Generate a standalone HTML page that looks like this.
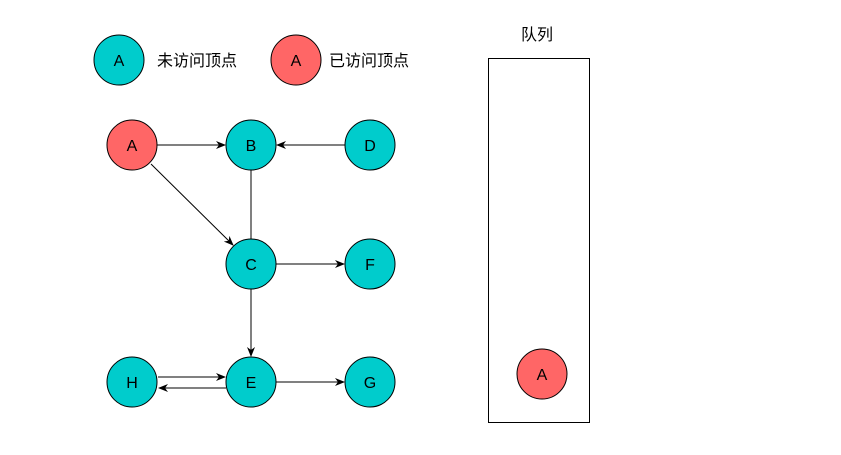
<!DOCTYPE html>
<html><head><meta charset="utf-8"><style>
html,body{margin:0;padding:0;background:#fff;}
svg{display:block}
text{font-family:"Liberation Sans","Noto Sans CJK SC",sans-serif;font-size:16px;fill:#000}
</style></head><body>
<svg width="841" height="455" viewBox="0 0 841 455" xmlns="http://www.w3.org/2000/svg">
<defs>
<marker id="ar" markerWidth="10" markerHeight="8" refX="9" refY="4" orient="auto" markerUnits="userSpaceOnUse">
<path d="M0,0 L10,4 L0,8 L3,4 Z" fill="#000"/>
</marker>
</defs>
<g stroke="#000" stroke-width="1" fill="none">
<line x1="157" y1="145" x2="225" y2="145" marker-end="url(#ar)"/>
<line x1="345" y1="145" x2="277" y2="145" marker-end="url(#ar)"/>
<line x1="151" y1="164" x2="233" y2="245" marker-end="url(#ar)"/>
<line x1="251" y1="170" x2="251" y2="239"/>
<line x1="276" y1="264" x2="344" y2="264" marker-end="url(#ar)"/>
<line x1="251" y1="289" x2="251" y2="356" marker-end="url(#ar)"/>
<line x1="158" y1="377" x2="225" y2="377" marker-end="url(#ar)"/>
<line x1="226" y1="388" x2="159" y2="388" marker-end="url(#ar)"/>
<line x1="276" y1="382" x2="344" y2="382" marker-end="url(#ar)"/>
<rect x="488.5" y="58.5" width="101" height="364"/>
</g>
<g stroke="#000" stroke-width="1">
<circle cx="119" cy="60" r="25" fill="#00CCCC"/>
<circle cx="296" cy="60" r="25" fill="#FF6666"/>
<circle cx="132" cy="145" r="25" fill="#FF6666"/>
<circle cx="251" cy="145" r="25" fill="#00CCCC"/>
<circle cx="370" cy="145" r="25" fill="#00CCCC"/>
<circle cx="251" cy="264" r="25" fill="#00CCCC"/>
<circle cx="370" cy="264" r="25" fill="#00CCCC"/>
<circle cx="132" cy="382" r="25" fill="#00CCCC"/>
<circle cx="251" cy="382" r="25" fill="#00CCCC"/>
<circle cx="370" cy="382" r="25" fill="#00CCCC"/>
<circle cx="542" cy="374" r="25" fill="#FF6666"/>
</g>
<g text-anchor="middle">
<text x="119" y="66">A</text>
<text x="296" y="66">A</text>
<text x="132" y="151">A</text>
<text x="251" y="151">B</text>
<text x="370" y="151">D</text>
<text x="251" y="270">C</text>
<text x="370" y="270">F</text>
<text x="132" y="388">H</text>
<text x="251" y="388">E</text>
<text x="370" y="388">G</text>
<text x="542" y="380">A</text>
<text x="537" y="40">队列</text>
</g>
<text x="157" y="66">未访问顶点</text>
<text x="329" y="66">已访问顶点</text>
</svg>
</body></html>
